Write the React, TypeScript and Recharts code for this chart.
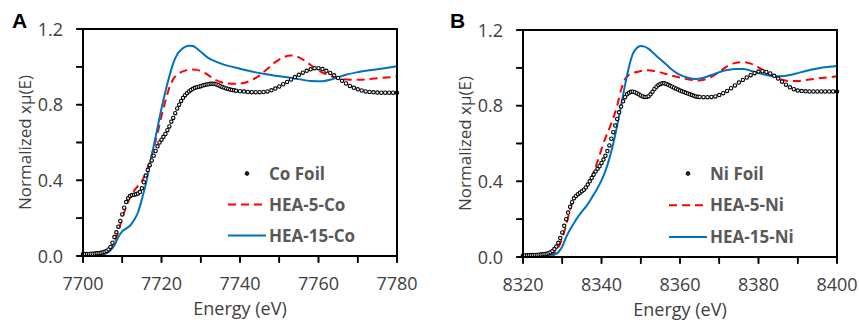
import React from 'react';
import { LineChart, Line, XAxis, YAxis } from 'recharts';

// ---------- Panel A (Co K-edge) ----------
const coTicks = [7700, 7710, 7720, 7730, 7740, 7750, 7760, 7770, 7780];
const coTickLabels = [7700, 7720, 7740, 7760, 7780];

const coFoilE = [
  7700, 7700.5, 7701, 7701.5, 7702, 7702.5, 7703, 7703.5, 7704, 7704.5,
  7705, 7705.5, 7706, 7706.5, 7707, 7707.5, 7708, 7708.5, 7709, 7709.5,
  7710, 7710.5, 7711, 7711.5, 7712, 7712.5, 7713, 7713.5, 7714, 7714.5,
  7715, 7715.5, 7716, 7716.5, 7717, 7717.5, 7718, 7718.5, 7719, 7719.5,
  7720, 7720.5, 7721, 7721.5, 7722, 7722.5, 7723, 7723.5, 7724, 7724.5,
  7725, 7725.5, 7726, 7726.5, 7727, 7727.5, 7728, 7728.5, 7729, 7729.5,
  7730, 7730.5, 7731, 7731.5, 7732, 7732.5, 7733, 7733.5, 7734, 7734.5,
  7735, 7735.5, 7736, 7736.5, 7737, 7737.5, 7738, 7738.5, 7739,
  7740, 7741, 7742, 7743, 7744, 7745, 7746, 7747, 7748, 7749,
  7750, 7751, 7752, 7753, 7754, 7755, 7756, 7757, 7758, 7759,
  7760, 7761, 7762, 7763, 7764, 7765, 7766, 7767, 7768, 7769,
  7770, 7771, 7772, 7773, 7774, 7775, 7776, 7777, 7778, 7779,
  7780,
];
const coFoilMu = [
  0.010, 0.010, 0.011, 0.011, 0.012, 0.012, 0.013, 0.014, 0.015, 0.017,
  0.019, 0.022, 0.027, 0.035, 0.048, 0.070, 0.100, 0.125, 0.155, 0.185,
  0.220, 0.255, 0.285, 0.305, 0.317, 0.322, 0.324, 0.326, 0.330, 0.338,
  0.358, 0.390, 0.425, 0.455, 0.480, 0.505, 0.530, 0.555, 0.580, 0.600,
  0.615, 0.630, 0.645, 0.665, 0.685, 0.710, 0.730, 0.755, 0.780, 0.800,
  0.820, 0.836, 0.850, 0.861, 0.870, 0.878, 0.884, 0.889, 0.892, 0.895,
  0.898, 0.901, 0.904, 0.906, 0.908, 0.910, 0.911, 0.910, 0.907, 0.903,
  0.898, 0.894, 0.890, 0.886, 0.883, 0.880, 0.878, 0.876, 0.874,
  0.871, 0.869, 0.867, 0.866, 0.866, 0.866, 0.867, 0.870, 0.876, 0.885,
  0.896, 0.908, 0.920, 0.933, 0.946, 0.958, 0.969, 0.979, 0.987, 0.993,
  0.993, 0.988, 0.979, 0.968, 0.955, 0.941, 0.926, 0.912, 0.899, 0.889,
  0.881, 0.875, 0.870, 0.867, 0.865, 0.864, 0.863, 0.863, 0.863, 0.863,
  0.863,
];

const hea5CoE = [
  7700, 7702, 7704, 7706, 7707, 7708, 7709, 7710, 7711, 7712, 7713, 7714, 7715, 7716, 7717,
  7718, 7719, 7720, 7721, 7722, 7723, 7724, 7725, 7726, 7727, 7728, 7729, 7730, 7731, 7732,
  7733, 7734, 7735, 7737, 7739, 7741, 7743, 7745, 7747, 7749, 7751, 7753, 7755, 7757, 7759,
  7761, 7763, 7765, 7768, 7771, 7775, 7780,
];
const hea5CoMu = [
  0.0, 0.003, 0.008, 0.018, 0.035, 0.07, 0.13, 0.2, 0.26, 0.31, 0.345, 0.37, 0.395, 0.44, 0.5,
  0.57, 0.65, 0.74, 0.82, 0.89, 0.935, 0.96, 0.972, 0.98, 0.985, 0.986, 0.984, 0.978, 0.968, 0.955,
  0.94, 0.928, 0.92, 0.912, 0.91, 0.915, 0.93, 0.955, 0.99, 1.025, 1.05, 1.06, 1.05, 1.025, 0.995,
  0.97, 0.952, 0.94, 0.932, 0.932, 0.94, 0.948,
];

const hea15CoE = [
  7700, 7702, 7704, 7705, 7706, 7707, 7708, 7709, 7710, 7711, 7712, 7713, 7714, 7715, 7716,
  7717, 7718, 7719, 7720, 7721, 7722, 7723, 7724, 7725, 7726, 7727, 7728, 7729, 7730, 7731,
  7732, 7733, 7735, 7737, 7740, 7743, 7746, 7749, 7752, 7755, 7758, 7761, 7763, 7765, 7767,
  7770, 7773, 7776, 7780,
];
const hea15CoMu = [
  0.0, 0.002, 0.005, 0.008, 0.015, 0.03, 0.055, 0.1, 0.13, 0.145, 0.16, 0.19, 0.23, 0.3, 0.38,
  0.48, 0.58, 0.68, 0.78, 0.87, 0.95, 1.02, 1.065, 1.09, 1.105, 1.112, 1.11, 1.097, 1.08, 1.062,
  1.046, 1.035, 1.018, 1.005, 0.99, 0.975, 0.963, 0.953, 0.945, 0.935, 0.925, 0.924, 0.932, 0.945, 0.958,
  0.972, 0.982, 0.99, 1.003,
];

// ---------- Panel B (Ni K-edge) ----------
const niTicks = [8320, 8330, 8340, 8350, 8360, 8370, 8380, 8390, 8400];
const niTickLabels = [8320, 8340, 8360, 8380, 8400];

const niFoilE = [
  8320, 8320.5, 8321, 8321.5, 8322, 8322.5, 8323, 8323.5, 8324, 8324.5,
  8325, 8325.5, 8326, 8326.5, 8327, 8327.5, 8328, 8328.5, 8329, 8329.5,
  8330, 8330.5, 8331, 8331.5, 8332, 8332.5, 8333, 8333.5, 8334, 8334.5,
  8335, 8335.5, 8336, 8336.5, 8337, 8337.5, 8338, 8338.5, 8339, 8339.5,
  8340, 8340.5, 8341, 8341.5, 8342, 8342.5, 8343, 8343.5, 8344, 8344.5,
  8345, 8345.5, 8346, 8346.5, 8347, 8347.5, 8348, 8348.5, 8349, 8349.5,
  8350, 8350.5, 8351, 8351.5, 8352, 8352.5, 8353, 8353.5, 8354, 8354.5,
  8355, 8355.5, 8356, 8356.5, 8357, 8357.5, 8358, 8358.5, 8359, 8359.5,
  8360, 8360.5, 8361, 8361.5, 8362, 8362.5, 8363, 8363.5, 8364, 8364.5,
  8365,
  8366, 8367, 8368, 8369,
  8370, 8371, 8372, 8373, 8374, 8375, 8376, 8377, 8378, 8379,
  8380, 8381, 8382, 8383, 8384, 8385, 8386, 8387, 8388, 8389,
  8390, 8391, 8392, 8393, 8394, 8395, 8396, 8397, 8398, 8399,
  8400,
];
const niFoilMu = [
  0.008, 0.008, 0.009, 0.009, 0.010, 0.010, 0.011, 0.011, 0.012, 0.013,
  0.014, 0.015, 0.017, 0.020, 0.025, 0.032, 0.042, 0.055, 0.075, 0.100,
  0.130, 0.165, 0.200, 0.235, 0.265, 0.290, 0.310, 0.323, 0.332, 0.340,
  0.347, 0.356, 0.368, 0.383, 0.400, 0.418, 0.435, 0.452, 0.466, 0.480,
  0.497, 0.515, 0.535, 0.560, 0.590, 0.625, 0.660, 0.695, 0.730, 0.765,
  0.795, 0.823, 0.845, 0.860, 0.868, 0.873, 0.874, 0.871, 0.866, 0.860,
  0.854, 0.849, 0.846, 0.846, 0.850, 0.860, 0.873, 0.888, 0.900, 0.909,
  0.915, 0.918, 0.918, 0.915, 0.910, 0.905, 0.900, 0.895, 0.890, 0.885,
  0.880, 0.876, 0.872, 0.868, 0.864, 0.860, 0.856, 0.852, 0.849, 0.847,
  0.846,
  0.845, 0.845, 0.846, 0.849,
  0.856, 0.866, 0.878, 0.892, 0.907, 0.922, 0.936, 0.949, 0.961, 0.972,
  0.980, 0.982, 0.978, 0.970, 0.958, 0.943, 0.927, 0.911, 0.897, 0.887,
  0.880, 0.877, 0.876, 0.875, 0.875, 0.875, 0.875, 0.875, 0.875, 0.875,
  0.875,
];

const hea5NiE = [
  8320, 8324, 8326, 8327, 8328, 8329, 8330, 8331, 8332, 8333, 8334, 8335, 8336, 8337, 8338,
  8339, 8340, 8341, 8342, 8343, 8344, 8345, 8346, 8347, 8348, 8349, 8350, 8351, 8352, 8353,
  8354, 8355, 8356, 8357, 8358, 8359, 8360, 8362, 8364, 8366, 8368, 8370, 8372, 8374, 8376,
  8378, 8380, 8382, 8384, 8386, 8388, 8390, 8393, 8396, 8400,
];
const hea5NiMu = [
  0, 0.003, 0.006, 0.01, 0.022, 0.05, 0.1, 0.17, 0.25, 0.31, 0.328, 0.338, 0.365, 0.4, 0.45,
  0.505, 0.57, 0.63, 0.68, 0.735, 0.8, 0.885, 0.94, 0.963, 0.973, 0.978, 0.983, 0.986, 0.987, 0.985,
  0.981, 0.976, 0.97, 0.964, 0.958, 0.954, 0.948, 0.94, 0.932, 0.937, 0.952, 0.978, 1.008, 1.025, 1.03,
  1.022, 1.003, 0.978, 0.953, 0.937, 0.93, 0.931, 0.938, 0.946, 0.955,
];

const hea15NiE = [
  8320, 8324, 8326, 8327, 8328, 8329, 8330, 8331, 8332, 8333, 8334, 8335, 8336, 8337, 8338,
  8339, 8340, 8341, 8342, 8343, 8344, 8345, 8346, 8347, 8348, 8349, 8350, 8351, 8352, 8353,
  8354, 8355, 8356, 8357, 8358, 8359, 8360, 8362, 8364, 8366, 8368, 8370, 8372, 8374, 8376,
  8378, 8380, 8382, 8384, 8386, 8388, 8390, 8392, 8395, 8398, 8400,
];
const hea15NiMu = [
  0, 0.002, 0.004, 0.007, 0.012, 0.025, 0.055, 0.105, 0.145, 0.18, 0.212, 0.24, 0.265, 0.295, 0.33,
  0.365, 0.405, 0.455, 0.52, 0.6, 0.695, 0.8, 0.91, 1.005, 1.075, 1.105, 1.115, 1.112, 1.1, 1.083,
  1.063, 1.045, 1.027, 1.008, 0.99, 0.975, 0.963, 0.948, 0.941, 0.948, 0.962, 0.977, 0.988, 0.994, 0.994,
  0.985, 0.972, 0.962, 0.956, 0.956, 0.962, 0.972, 0.983, 0.997, 1.006, 1.01,
];

// ---------- shared ----------
const muTicks = [0, 0.2, 0.4, 0.6, 0.8, 1.0, 1.2];
const muTickLabels = [0, 0.4, 0.8, 1.2];
const coLegend = ['Co Foil', 'HEA-5-Co', 'HEA-15-Co'];
const niLegend = ['Ni Foil', 'HEA-5-Ni', 'HEA-15-Ni'];

const zip = (e: number[], m: number[]) => e.map((v, i) => ({ e: v, mu: m[i] }));

const FONT = '"Open Sans", "Liberation Sans", sans-serif';
const BLUE = '#0070C0';
const RED = '#FF0000';
const TEXT = '#404040';
const W = 430;
const H = 323;
const PLOT_LEFT = 83;
const PLOT_RIGHT = 397;

const makeXTick = (labels: number[]) => (props: any) => {
  const { x, y, payload } = props;
  if (!labels.includes(payload.value)) return <g />;
  return (
    <text x={x} y={y} dy={26} textAnchor="middle" fill={TEXT} fontSize={18} fontFamily={FONT}>
      {payload.value}
    </text>
  );
};

const YTick = (props: any) => {
  const { x, y, payload } = props;
  const show = muTickLabels.some((v) => Math.abs(v - payload.value) < 1e-6);
  if (!show) return <g />;
  return (
    <text x={x} y={y} dx={-12} dy={6.5} textAnchor="end" fill={TEXT} fontSize={18} fontFamily={FONT}>
      {Number(payload.value).toFixed(1)}
    </text>
  );
};

const LegendBox = ({ names, spacing, left }: { names: string[]; spacing: number; left: number }) => (
  <svg width={190} height={100} style={{ position: 'absolute', left, top: 157.5, display: 'block' }}>
    {names.map((n, i) => {
      const cy = 15.5 + i * spacing;
      return (
        <g key={n}>
          {i === 0 && <circle cx={21} cy={cy} r={1.9} fill="#222" stroke="#000" strokeWidth={0.8} />}
          {i === 1 && <line x1={2} x2={40} y1={cy} y2={cy} stroke={RED} strokeWidth={2} strokeDasharray="8 5" />}
          {i === 2 && <line x1={2} x2={40} y1={cy} y2={cy} stroke={BLUE} strokeWidth={2} />}
          <text x={43} y={cy + 6} fill="#595959" fontSize={17} fontWeight="bold" fontFamily={FONT}>
            {n}
          </text>
        </g>
      );
    })}
  </svg>
);

// Plot frame + tick marks, on the same plot box as the chart's axes
const FrameOverlay = ({ domain, ticks, top, bottom }: { domain: [number, number]; ticks: number[]; top: number; bottom: number }) => {
  const sx = (v: number) => PLOT_LEFT + ((v - domain[0]) / (domain[1] - domain[0])) * (PLOT_RIGHT - PLOT_LEFT);
  const sy = (v: number) => bottom - (v / 1.2) * (bottom - top);
  return (
    <svg width={W} height={H} style={{ position: 'absolute', left: 0, top: 0, pointerEvents: 'none' }}>
      <rect
        x={PLOT_LEFT}
        y={top}
        width={PLOT_RIGHT - PLOT_LEFT}
        height={bottom - top}
        fill="none"
        stroke="#000"
        strokeWidth={2}
      />
      {ticks.map((t) => (
        <line key={'x' + t} x1={sx(t)} x2={sx(t)} y1={bottom} y2={bottom + 7} stroke="#000" strokeWidth={1.6} />
      ))}
      {muTicks.map((v) => (
        <line key={'y' + v} x1={PLOT_LEFT - 7} x2={PLOT_LEFT} y1={sy(v)} y2={sy(v)} stroke="#000" strokeWidth={1.6} />
      ))}
    </svg>
  );
};

type Pt = { e: number; mu: number };
type PanelProps = {
  left: number;
  letter: string;
  domain: [number, number];
  ticks: number[];
  tickLabels: number[];
  foil: Pt[];
  hea5: Pt[];
  hea15: Pt[];
  names: string[];
  legendLeft: number;
  legendSpacing: number;
  top: number;
  bottom: number;
};

const Panel = (p: PanelProps) => (
  <div style={{ position: 'absolute', left: p.left, top: 0, width: W, height: H }}>
    <LineChart
      width={W}
      height={H}
      margin={{ top: p.top, right: W - PLOT_RIGHT, bottom: H - p.bottom - 30, left: PLOT_LEFT - 60 }}
    >
      <XAxis
        dataKey="e"
        type="number"
        domain={p.domain}
        ticks={p.ticks}
        height={30}
        axisLine={{ stroke: '#000', strokeWidth: 2 }}
        tickLine={{ stroke: '#000', strokeWidth: 1.6 }}
        tickSize={6}
        interval={0}
        tick={makeXTick(p.tickLabels)}
        label={{
          value: 'Energy (eV)',
          position: 'bottom',
          offset: 16,
          fill: TEXT,
          fontSize: 18,
          fontFamily: FONT,
        }}
      />
      <YAxis
        dataKey="mu"
        type="number"
        domain={[0, 1.2]}
        ticks={muTicks}
        width={60}
        axisLine={{ stroke: '#000', strokeWidth: 2 }}
        tickLine={{ stroke: '#000', strokeWidth: 1.6 }}
        tickSize={6}
        interval={0}
        tick={YTick}
        label={{
          value: 'Normalized xμ(E)',
          angle: -90,
          position: 'insideLeft',
          offset: 2,
          fill: TEXT,
          fontSize: 17,
          fontFamily: FONT,
          style: { textAnchor: 'middle' },
        }}
      />
      <Line
        data={p.foil}
        dataKey="mu"
        name={p.names[0]}
        stroke="none"
        isAnimationActive={false}
        dot={{ r: 1.7, stroke: '#000', strokeWidth: 1.1, fill: '#fff' }}
        activeDot={false}
      />
      <Line
        data={p.hea5}
        dataKey="mu"
        name={p.names[1]}
        type="monotone"
        stroke={RED}
        strokeWidth={2}
        strokeDasharray="8 5"
        dot={false}
        isAnimationActive={false}
      />
      <Line
        data={p.hea15}
        dataKey="mu"
        name={p.names[2]}
        type="monotone"
        stroke={BLUE}
        strokeWidth={2}
        dot={false}
        isAnimationActive={false}
      />
    </LineChart>
    <FrameOverlay domain={p.domain} ticks={p.ticks} top={p.top} bottom={p.bottom} />
    <LegendBox names={p.names} spacing={p.legendSpacing} left={p.legendLeft} />
    <div
      style={{
        position: 'absolute',
        left: p.letter === 'A' ? 12 : 10,
        top: 9,
        fontFamily: '"Liberation Sans", Arial, sans-serif',
        fontWeight: 'bold',
        fontSize: 21,
        lineHeight: '24px',
        color: '#000',
      }}
    >
      {p.letter}
    </div>
  </div>
);

export default function App() {
  return (
    <div style={{ position: 'absolute', left: 0, top: 0, width: 859, height: 323, background: '#fff' }}>
      <Panel
        left={0}
        letter="A"
        domain={[7700, 7780]}
        ticks={coTicks}
        tickLabels={coTickLabels}
        foil={zip(coFoilE, coFoilMu)}
        hea5={zip(hea5CoE, hea5CoMu)}
        hea15={zip(hea15CoE, hea15CoMu)}
        names={coLegend}
        legendLeft={226}
        legendSpacing={31}
        top={29}
        bottom={256}
      />
      <Panel
        left={440}
        letter="B"
        domain={[8320, 8400]}
        ticks={niTicks}
        tickLabels={niTickLabels}
        foil={zip(niFoilE, niFoilMu)}
        hea5={zip(hea5NiE, hea5NiMu)}
        hea15={zip(hea15NiE, hea15NiMu)}
        names={niLegend}
        legendLeft={227}
        legendSpacing={31.7}
        top={30}
        bottom={257}
      />
    </div>
  );
}
